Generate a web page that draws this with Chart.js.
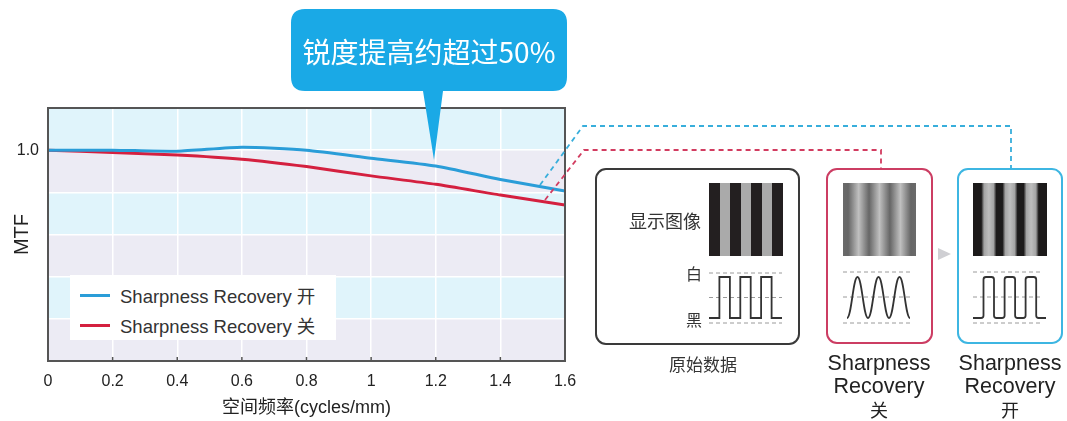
<!DOCTYPE html>
<html>
<head>
<meta charset="utf-8">
<script src="https://cdn.jsdelivr.net/npm/chart.js@4.4.1/dist/chart.umd.min.js"></script>
<style>
html,body{margin:0;padding:0;background:#fff;}
#wrap{position:relative;width:1067px;height:421px;overflow:hidden;}
#c{position:absolute;left:0;top:0;}
#legend{position:absolute;left:70px;top:275px;width:266px;height:65px;background:#fff;padding-top:5px;box-sizing:border-box;}
.li{display:flex;align-items:center;height:30px;}
.sw{width:30px;height:3px;margin-left:10px;margin-right:10px;}
.lt{font-family:"Liberation Sans","Noto Sans CJK SC",sans-serif;font-size:18.5px;color:#333;white-space:nowrap;}
#deco{position:absolute;left:0;top:0;}
</style>
</head>
<body>
<div id="wrap">
<canvas id="c" width="1067" height="421"></canvas>
<div id="legend"></div>
<svg id="deco" width="1067" height="421" xmlns="http://www.w3.org/2000/svg">
  <defs>
    <linearGradient id="g1" x1="0" x2="1" y1="0" y2="0">
      <stop offset="0" stop-color="#231f20"/><stop offset="0.1429" stop-color="#231f20"/>
      <stop offset="0.1429" stop-color="#aaaaaa"/><stop offset="0.2857" stop-color="#aaaaaa"/>
      <stop offset="0.2857" stop-color="#231f20"/><stop offset="0.4286" stop-color="#231f20"/>
      <stop offset="0.4286" stop-color="#aaaaaa"/><stop offset="0.5714" stop-color="#aaaaaa"/>
      <stop offset="0.5714" stop-color="#231f20"/><stop offset="0.7143" stop-color="#231f20"/>
      <stop offset="0.7143" stop-color="#aaaaaa"/><stop offset="0.8571" stop-color="#aaaaaa"/>
      <stop offset="0.8571" stop-color="#231f20"/><stop offset="1" stop-color="#231f20"/>
    </linearGradient>
    <linearGradient id="g2" x1="0" x2="1" y1="0" y2="0">
      <stop offset="0" stop-color="#6a6a6a"/><stop offset="0.0714" stop-color="#666"/>
      <stop offset="0.2143" stop-color="#c0c0c0"/><stop offset="0.3571" stop-color="#666"/>
      <stop offset="0.5" stop-color="#c0c0c0"/><stop offset="0.6429" stop-color="#666"/>
      <stop offset="0.7857" stop-color="#c0c0c0"/><stop offset="0.9286" stop-color="#666"/>
      <stop offset="1" stop-color="#6a6a6a"/>
    </linearGradient>
    <linearGradient id="g3" x1="0" x2="1" y1="0" y2="0">
      <stop offset="0" stop-color="#1c1a1a"/><stop offset="0.112" stop-color="#1c1a1a"/>
      <stop offset="0.150" stop-color="#a4a4a4"/><stop offset="0.214" stop-color="#bebebe"/><stop offset="0.278" stop-color="#a4a4a4"/>
      <stop offset="0.316" stop-color="#1c1a1a"/><stop offset="0.398" stop-color="#1c1a1a"/>
      <stop offset="0.436" stop-color="#a4a4a4"/><stop offset="0.500" stop-color="#bebebe"/><stop offset="0.564" stop-color="#a4a4a4"/>
      <stop offset="0.602" stop-color="#1c1a1a"/><stop offset="0.684" stop-color="#1c1a1a"/>
      <stop offset="0.722" stop-color="#a4a4a4"/><stop offset="0.786" stop-color="#bebebe"/><stop offset="0.850" stop-color="#a4a4a4"/>
      <stop offset="0.888" stop-color="#1c1a1a"/><stop offset="1" stop-color="#1c1a1a"/>
    </linearGradient>
  </defs>

  <!-- callout bubble -->
  <path d="M305,9 H553 Q567,9 567,23 V77 Q567,91 553,91 H443 L434,160 L423,91 H305 Q291,91 291,77 V23 Q291,9 305,9 Z" fill="#1aa9e6"/>
  <text x="429" y="51" text-anchor="middle" dominant-baseline="central" font-family="'Noto Sans CJK SC',sans-serif" font-size="28" fill="#ffffff">锐度提高约超过50%</text>

  <!-- dashed connectors -->
  <polyline points="540,185 583,126 1011,126 1011,169" fill="none" stroke="#38aedb" stroke-width="1.8" stroke-dasharray="5,4"/>
  <polyline points="545,200 584,150 881,150 881,169" fill="none" stroke="#d23c60" stroke-width="1.8" stroke-dasharray="5,4"/>

  <!-- box 1 : original data -->
  <rect x="596" y="169" width="203" height="175" rx="10" fill="#fff" stroke="#3a3a3a" stroke-width="2"/>
  <rect x="709" y="183" width="74" height="73" fill="url(#g1)"/>
  <text x="701" y="220" text-anchor="end" dominant-baseline="central" font-family="'Noto Sans CJK SC',sans-serif" font-size="18" fill="#333">显示图像</text>
  <text x="702" y="273" text-anchor="end" dominant-baseline="central" font-family="'Noto Sans CJK SC',sans-serif" font-size="16" fill="#333">白</text>
  <text x="702" y="319" text-anchor="end" dominant-baseline="central" font-family="'Noto Sans CJK SC',sans-serif" font-size="16" fill="#333">黑</text>
  <g stroke="#9a9a9a" stroke-width="1" stroke-dasharray="4,3">
    <line x1="709" y1="273" x2="782" y2="273"/>
    <line x1="709" y1="297.5" x2="782" y2="297.5"/>
    <line x1="709" y1="323" x2="782" y2="323"/>
  </g>
  <path d="M709,318 H719.4 V277 H729.9 V318 H740.3 V277 H750.7 V318 H761.1 V277 H771.6 V318 H782" fill="none" stroke="#333" stroke-width="1.8"/>
  <text x="703" y="363" text-anchor="middle" dominant-baseline="central" font-family="'Noto Sans CJK SC',sans-serif" font-size="17" fill="#333">原始数据</text>

  <!-- box 2 : off -->
  <rect x="827" y="169" width="105" height="174" rx="10" fill="#fff" stroke="#cc3d63" stroke-width="2"/>
  <rect x="843" y="183" width="73" height="73" fill="url(#g2)"/>
  <g stroke="#9a9a9a" stroke-width="1" stroke-dasharray="4,3">
    <line x1="843" y1="272" x2="911" y2="272"/>
    <line x1="843" y1="297" x2="911" y2="297"/>
    <line x1="843" y1="323" x2="911" y2="323"/>
  </g>
  <path d="M847,318 C851.5,318 853,277 857.5,277 S863.5,318 868,318 S874,277 878.5,277 S884.5,318 889,318 S895,277 899.5,277 S905.5,318 910,318" fill="none" stroke="#333" stroke-width="1.8"/>
  <g font-family="'Liberation Sans','Noto Sans CJK SC',sans-serif" font-size="21.5" fill="#222" text-anchor="middle" dominant-baseline="central">
    <text x="879" y="363">Sharpness</text>
    <text x="879" y="386">Recovery</text>
    <text x="879" y="409" font-family="'Noto Sans CJK SC',sans-serif" font-size="18">关</text>
  </g>

  <!-- arrow -->
  <polygon points="938,248 951,254 938,260" fill="#cfcfd3"/>

  <!-- box 3 : on -->
  <rect x="958" y="169" width="104" height="174" rx="10" fill="#fff" stroke="#3db6e2" stroke-width="2"/>
  <rect x="973" y="183" width="74" height="73" fill="url(#g3)"/>
  <g stroke="#9a9a9a" stroke-width="1" stroke-dasharray="4,3">
    <line x1="973" y1="272" x2="1043" y2="272"/>
    <line x1="973" y1="297" x2="1043" y2="297"/>
    <line x1="973" y1="323" x2="1043" y2="323"/>
  </g>
  <path d="M973,318 H981 Q983.5,318 983.5,315.5 V279.5 Q983.5,277 986,277 H991.5 Q994,277 994,279.5 V315.5 Q994,318 996.5,318 H1002 Q1004.6,318 1004.6,315.5 V279.5 Q1004.6,277 1007,277 H1012.6 Q1015.1,277 1015.1,279.5 V315.5 Q1015.1,318 1017.6,318 H1023.1 Q1025.6,318 1025.6,315.5 V279.5 Q1025.6,277 1028.1,277 H1033.7 Q1036.2,277 1036.2,279.5 V315.5 Q1036.2,318 1038.7,318 H1046" fill="none" stroke="#333" stroke-width="1.8"/>
  <g font-family="'Liberation Sans','Noto Sans CJK SC',sans-serif" font-size="21.5" fill="#222" text-anchor="middle" dominant-baseline="central">
    <text x="1010" y="363">Sharpness</text>
    <text x="1010" y="386">Recovery</text>
    <text x="1010" y="409" font-family="'Noto Sans CJK SC',sans-serif" font-size="18">开</text>
  </g>
</svg>
</div>
<script>
// ---- data ----
const frequencies = [0, 0.2, 0.4, 0.6, 0.8, 1.0, 1.2, 1.4, 1.6];
const mtfOn  = [1.0, 1.0, 0.995, 1.014, 1.0, 0.962, 0.925, 0.861, 0.806];
const mtfOff = [1.0, 0.989, 0.977, 0.957, 0.922, 0.878, 0.838, 0.787, 0.74];
const seriesLabels = ['Sharpness Recovery 开', 'Sharpness Recovery 关'];
const seriesColors = ['#2a9dd8', '#d4203f'];
const xTickLabels = ['0', '0.2', '0.4', '0.6', '0.8', '1', '1.2', '1.4', '1.6'];
const yLabeledTicks = {1: '1.0'};
const bandColors = ['#ecebf4', '#e0f4fb'];

// ---- legend (HTML) ----
const lg = document.getElementById('legend');
seriesLabels.forEach((lab, i) => {
  const row = document.createElement('div'); row.className = 'li';
  const sw = document.createElement('div'); sw.className = 'sw'; sw.style.background = seriesColors[i];
  const t = document.createElement('span'); t.className = 'lt'; t.textContent = lab;
  row.appendChild(sw); row.appendChild(t); lg.appendChild(row);
});

Chart.defaults.font.family = '"Liberation Sans", "Noto Sans CJK SC", sans-serif';
Chart.defaults.color = '#222';

const bands = {
  id: 'bands',
  beforeDraw(chart) {
    const {ctx, chartArea: a, scales: {y}} = chart;
    ctx.save();
    const ticks = y.ticks.map(t => t.value);
    for (let i = 0; i < ticks.length - 1; i++) {
      const y0 = y.getPixelForValue(ticks[i]), y1 = y.getPixelForValue(ticks[i + 1]);
      ctx.fillStyle = bandColors[i % 2];
      ctx.fillRect(a.left, y1, a.right - a.left, y0 - y1);
    }
    ctx.restore();
  },
  afterDatasetsDraw(chart) {
    const {ctx, chartArea: a, scales: {x}} = chart;
    ctx.save();
    ctx.strokeStyle = '#555';
    ctx.lineWidth = 1.5;
    x.ticks.forEach(t => {
      const px = x.getPixelForValue(t.value);
      ctx.beginPath(); ctx.moveTo(px, a.bottom); ctx.lineTo(px, a.bottom - 4); ctx.stroke();
    });
    ctx.lineWidth = 2;
    ctx.strokeRect(a.left, a.top, a.right - a.left, a.bottom - a.top);
    ctx.restore();
  }
};

new Chart(document.getElementById('c'), {
  type: 'line',
  data: {
    datasets: [
      {label: seriesLabels[0], data: frequencies.map((f, i) => ({x: f, y: mtfOn[i]})),
       borderColor: seriesColors[0], borderWidth: 3, pointRadius: 0, tension: 0.2},
      {label: seriesLabels[1], data: frequencies.map((f, i) => ({x: f, y: mtfOff[i]})),
       borderColor: seriesColors[1], borderWidth: 3, pointRadius: 0, tension: 0.2}
    ]
  },
  options: {
    responsive: false,
    animation: false,
    devicePixelRatio: 1,
    layout: {padding: {top: 108, right: 502, left: 0, bottom: 0}},
    plugins: {legend: {display: false}, tooltip: {enabled: false}},
    scales: {
      x: {
        type: 'linear', min: 0, max: 1.6,
        afterFit: s => { s.height = 60; },
        grid: {color: '#ffffff', lineWidth: 1.5, drawTicks: false},
        border: {display: false},
        ticks: {stepSize: 0.2, padding: 11, font: {size: 16}, color: '#222',
                callback: (v, i) => xTickLabels[i]},
        title: {display: true, text: '空间频率(cycles/mm)', font: {size: 18}, color: '#222', padding: {top: 0, bottom: 2}}
      },
      y: {
        min: 0, max: 1.2,
        afterFit: s => { s.width = 48; },
        grid: {color: '#ffffff', lineWidth: 1.5, drawTicks: false},
        border: {display: false},
        ticks: {stepSize: 0.2, padding: 9, font: {size: 16}, color: '#222',
                callback: v => { const k = Math.round(v * 10) / 10; return yLabeledTicks[k] || ''; }},
        title: {display: true, text: 'MTF', font: {size: 20}, color: '#222', padding: {top: 10, bottom: 0}}
      }
    }
  },
  plugins: [bands]
});
</script>
</body>
</html>
